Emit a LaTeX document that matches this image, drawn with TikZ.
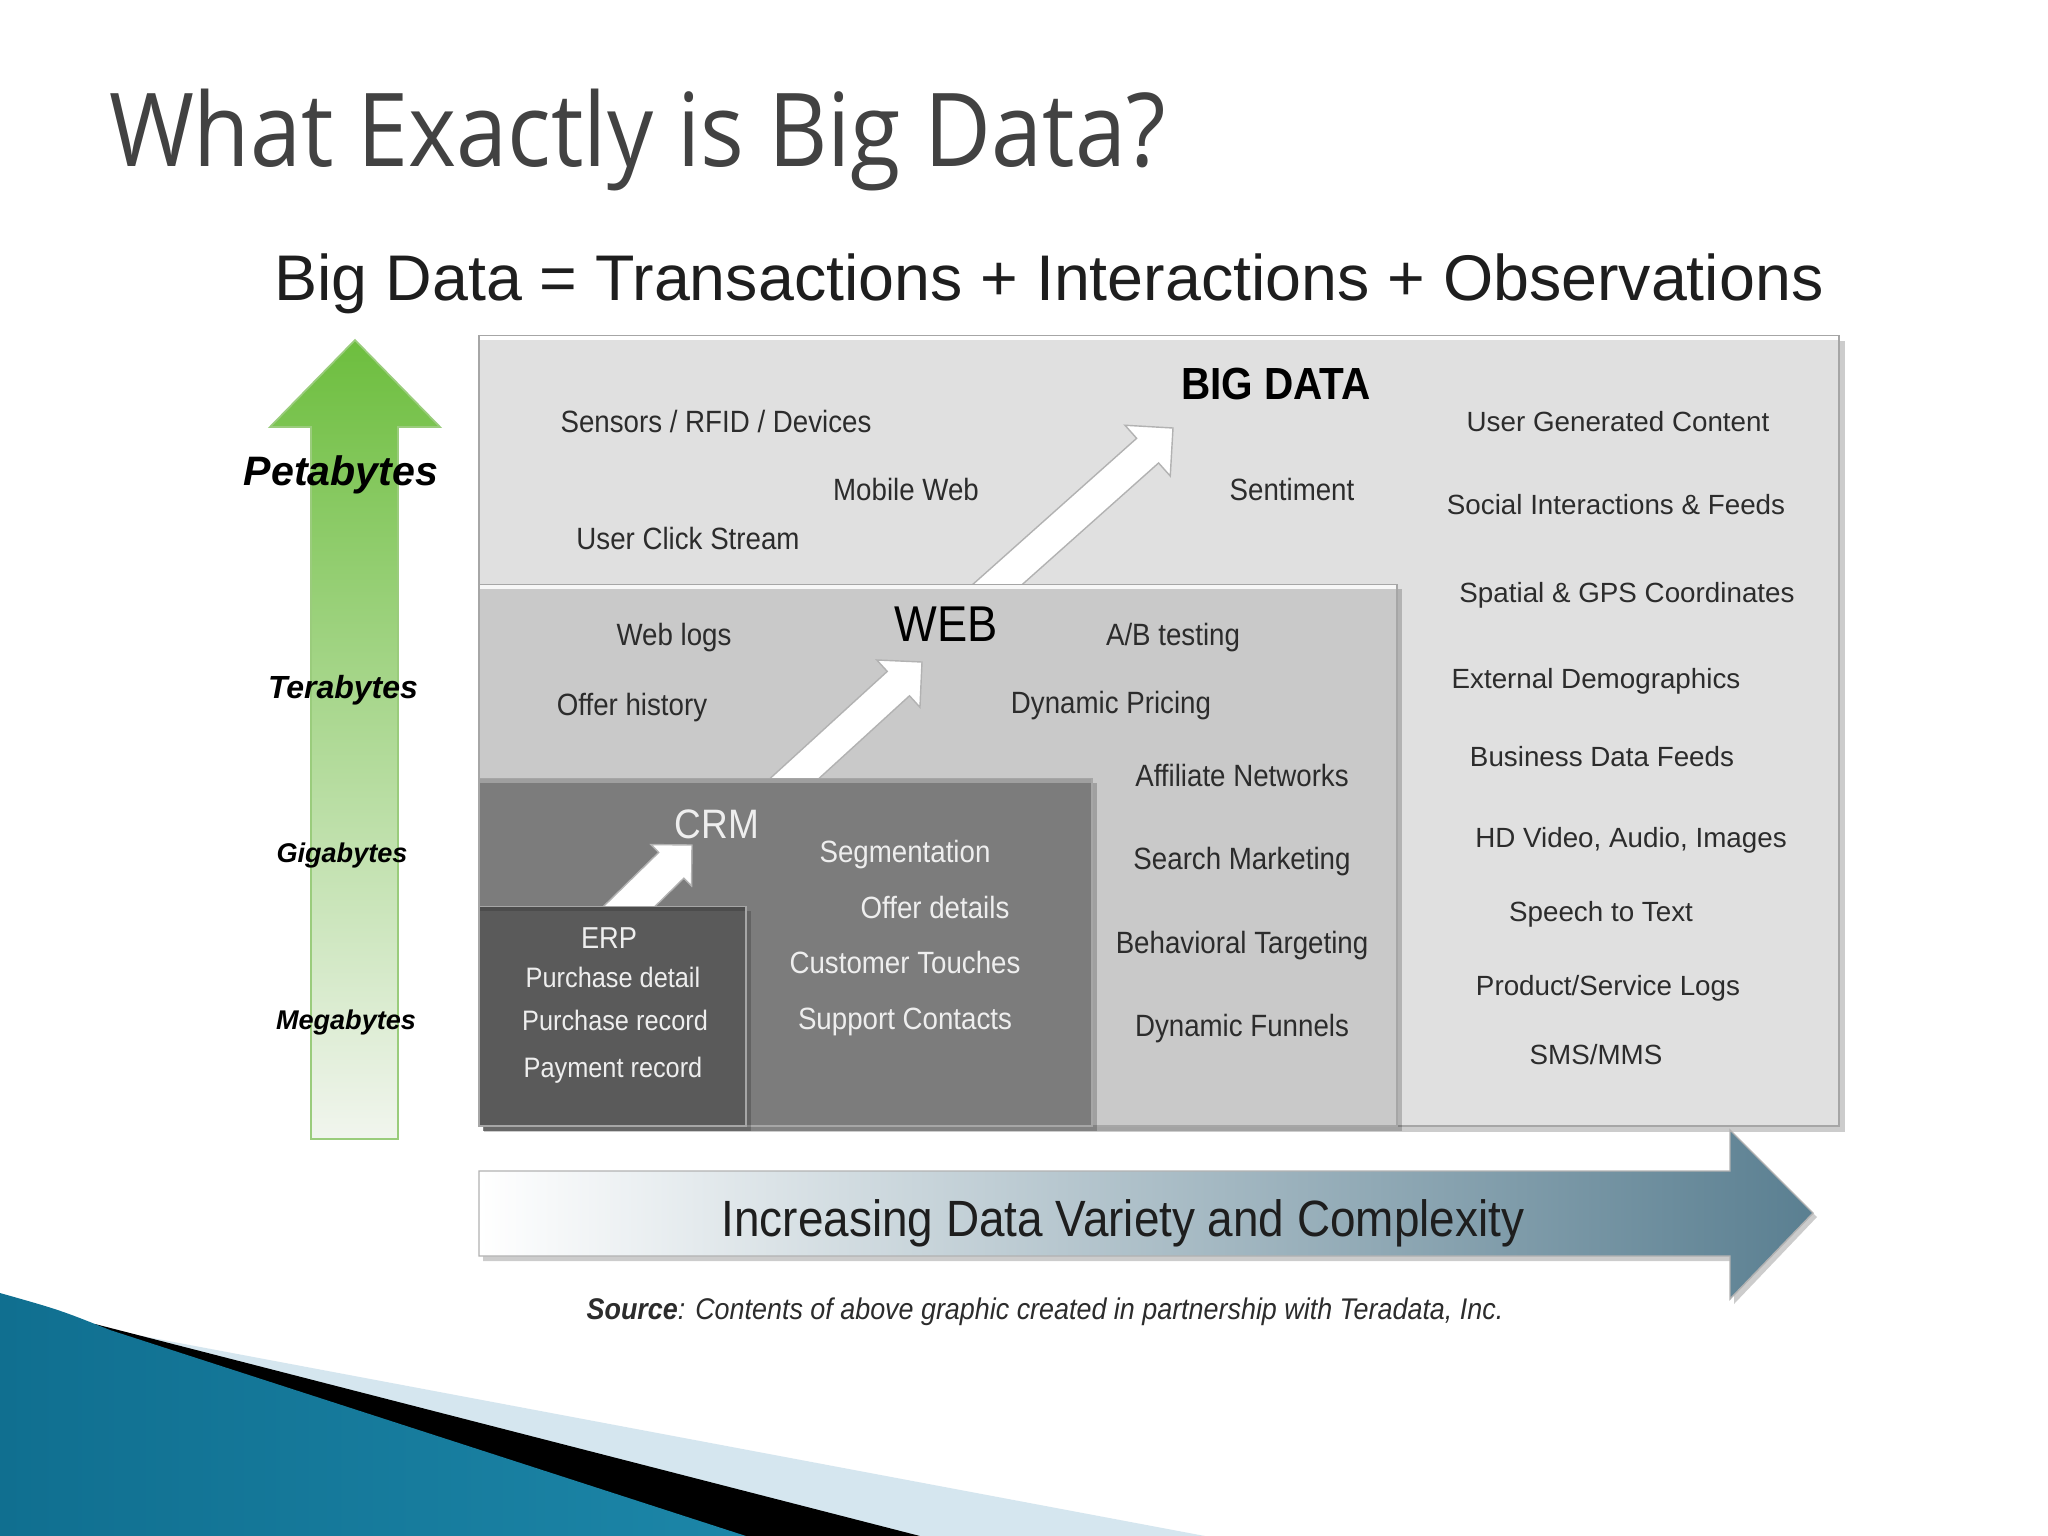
\documentclass[tikz,border=0pt]{standalone}
\usepackage{fontspec}
\setmainfont{Liberation Sans}
\newfontfamily\narrowf[FakeStretch=0.9]{Liberation Sans}
\newfontfamily\titlef[FakeStretch=0.9]{Open Sans}
\usetikzlibrary{calc}
\definecolor{bigc}{HTML}{E0E0E0}
\definecolor{webc}{HTML}{C9C9C9}
\definecolor{crmc}{HTML}{7C7C7C}
\definecolor{erpc}{HTML}{5A5A5A}
\definecolor{txtdark}{HTML}{2C2C2C}
\definecolor{txtlight}{HTML}{EEEEEE}
\definecolor{titlegray}{HTML}{424242}
\definecolor{subgray}{HTML}{1E1E1E}
\definecolor{greenA}{HTML}{6DBE3E}
\definecolor{greenB}{HTML}{F1F5EE}
\definecolor{greenE}{HTML}{9ACC7C}
\definecolor{steelA}{HTML}{C3D3DB}
\definecolor{steelB}{HTML}{5A7F91}
\definecolor{swlight}{HTML}{D5E6EF}
\definecolor{swA}{HTML}{106F90}
\definecolor{swB}{HTML}{4DB2D6}
\definecolor{swC}{HTML}{1C86A8}
\newcommand\fatarrow[6]{%
  \path ($(#2)!#5!(#1)$) coordinate (fab);
  \filldraw[#6] ($(#1)!#3!90:(#2)$) -- ($(fab)!#3!-90:(#1)$) -- ($(fab)!#4!-90:(#1)$)
    -- (#2) -- ($(fab)!#4!90:(#1)$) -- ($(fab)!#3!90:(#1)$) -- ($(#1)!#3!-90:(#2)$) -- cycle;
}
\tikzset{
  every node/.style={inner sep=0pt, outer sep=0pt},
  lbl/.style={anchor=base, font=\narrowf\fontsize{8.75}{10}\selectfont, text=txtdark},
  lblw/.style={lbl, text=txtlight},
  erpl/.style={lblw, font=\narrowf\fontsize{8.0}{10}\selectfont},
  rlbl/.style={anchor=base, font=\fontsize{7.9}{9}\selectfont, text=txtdark},
  ylbl/.style={anchor=base, text=black},
  shadowbox/.style={fill=black, fill opacity=0.2},
  panelline/.style={draw=gray!70, line width=0.4pt},
  whitearrow/.style={fill=white, draw=gray!60, line width=0.4pt},
}
\begin{document}
\begin{tikzpicture}[x=0.01cm,y=-0.01cm]
\useasboundingbox (0,0) rectangle (2048,1536);
\fill[white] (0,0) rectangle (2048,1536);

% bottom-left swoosh
\fill[swlight] (110,1330) -- (1205,1536) -- (0,1536) -- cycle;
\fill[black] (95,1324) -- (920,1536) -- (0,1536) -- cycle;
\shade[left color=swA, middle color=swB, right color=swC] (0,1293) .. controls (60,1310) .. (110,1330) -- (746,1536) -- (0,1536) -- cycle;

% titles
\node[anchor=base west, font=\titlef\fontsize{29}{34}\selectfont, text=titlegray] (title) at (109,166) {What Exactly is Big Data?};
\node[anchor=base, font=\fontsize{18.35}{22}\selectfont, text=subgray] (subtitle) at (1049,300) {Big Data = Transactions + Interactions + Observations};

% BIG DATA panel
\fill[shadowbox] (484,341) rectangle (1845,1132);
\filldraw[fill=bigc, panelline] (479,336) rectangle (1839,1126);
\draw[white, line width=1.2pt] (480,338) -- (1838,338);
\coordinate (a1t) at (961,617);
\coordinate (a1p) at (1173,428);
\fatarrow{a1t}{a1p}{0.165cm}{0.34cm}{0.34cm}{whitearrow}

% WEB panel
\fill[shadowbox] (483,589) rectangle (1402,1131);
\filldraw[fill=webc, panelline] (479,585) rectangle (1397,1126);
\draw[white!85!webc, line width=1.2pt] (480,587) -- (1396,587);
\coordinate (a2t) at (760,810);
\coordinate (a2p) at (922,662);
\fatarrow{a2t}{a2p}{0.165cm}{0.32cm}{0.32cm}{whitearrow}

% CRM panel
\fill[shadowbox] (483,783) rectangle (1097,1131);
\filldraw[fill=crmc, panelline] (479,779) rectangle (1092,1126);
\draw[gray!75, line width=1.2pt] (480,781) -- (1091,781);
\coordinate (a3t) at (600,935);
\coordinate (a3p) at (692,845);
\fatarrow{a3t}{a3p}{0.18cm}{0.29cm}{0.29cm}{whitearrow}

% ERP panel
\fill[shadowbox] (483,911) rectangle (751,1131);
\filldraw[fill=erpc, panelline] (479,907) rectangle (746,1126);
\draw[gray!60!black, line width=1.2pt] (480,909) -- (745,909);

% green volume arrow
\shade[top color=greenA, bottom color=greenB, draw=greenE, line width=0.5pt]
  (311,1139) -- (311,427) -- (270,427) -- (355,340) -- (440,427) -- (398,427) -- (398,1139) -- cycle;
\node[ylbl, font=\bfseries\itshape\fontsize{11.7}{13}\selectfont] (peta) at (341,485) {Petabytes};
\node[ylbl, font=\bfseries\itshape\fontsize{9.1}{11}\selectfont] (tera) at (343,698) {Terabytes};
\node[ylbl, font=\bfseries\itshape\fontsize{7.7}{9}\selectfont] (giga) at (342,862) {Gigabytes};
\node[ylbl, font=\bfseries\itshape\fontsize{7.7}{9}\selectfont] (mega) at (346,1029) {Megabytes};

% variety arrow
\fill[shadowbox] (483,1176) -- (1734,1176) -- (1734,1135) -- (1817,1217) -- (1734,1304) -- (1734,1261) -- (483,1261) -- cycle;
\shade[left color=white, middle color=steelA, right color=steelB, draw=gray!60, line width=0.4pt]
  (479,1171) -- (1730,1171) -- (1730,1130) -- (1813,1213) -- (1730,1299) -- (1730,1256) -- (479,1256) -- cycle;
\node[anchor=base, font=\narrowf\fontsize{14.5}{17}\selectfont, text=subgray] (variety) at (1123,1236) {Increasing Data Variety and Complexity};
\node[anchor=base, font=\narrowf\itshape\fontsize{8.5}{10}\selectfont, text=txtdark] (source) at (1045,1319) {\textbf{Source}: Contents of above graphic created in partnership with Teradata, Inc.};

% BIG DATA panel texts
\node[anchor=base, font=\narrowf\bfseries\fontsize{12.8}{15}\selectfont, text=black] (bigdata) at (1276,399) {BIG DATA};
\node[lbl] (sensors) at (716,432) {Sensors / RFID / Devices};
\node[lbl] (mobile) at (906,500) {Mobile Web};
\node[lbl] (click) at (688,549) {User Click Stream};
\node[lbl] (sentiment) at (1292,500) {Sentiment};

% WEB panel texts
\node[anchor=base, font=\narrowf\fontsize{14.3}{17}\selectfont, text=black] (web) at (946,641) {WEB};
\node[lbl] (weblogs) at (674,645) {Web logs};
\node[lbl] (ab) at (1173,645) {A/B testing};
\node[lbl] (offerh) at (632,715) {Offer history};
\node[lbl] (pricing) at (1111,713) {Dynamic Pricing};
\node[lbl] (affil) at (1242,786) {Affiliate Networks};
\node[lbl] (search) at (1242,869) {Search Marketing};
\node[lbl] (behav) at (1242,953) {Behavioral Targeting};
\node[lbl] (funnels) at (1242,1036) {Dynamic Funnels};

% CRM panel texts
\node[anchor=base, font=\narrowf\fontsize{11.7}{14}\selectfont, text=txtlight] (crm) at (717,838) {CRM};
\node[lblw] (segm) at (905,862) {Segmentation};
\node[lblw] (offerd) at (935,918) {Offer details};
\node[lblw] (touch) at (905,973) {Customer Touches};
\node[lblw] (support) at (905,1029) {Support Contacts};

% ERP panel texts
\node[erpl, font=\narrowf\fontsize{8.6}{10}\selectfont] (erp) at (609,948) {ERP};
\node[erpl] (pdetail) at (613,987) {Purchase detail};
\node[erpl] (precord) at (615,1030) {Purchase record};
\node[erpl] (payrec) at (613,1077) {Payment record};

% right column texts
\node[rlbl] (ugc) at (1618,431) {User Generated Content};
\node[rlbl] (social) at (1616,514) {Social Interactions \& Feeds};
\node[rlbl] (spatial) at (1627,602) {Spatial \& GPS Coordinates};
\node[rlbl] (demog) at (1596,688) {External Demographics};
\node[rlbl] (bizfeeds) at (1602,766) {Business Data Feeds};
\node[rlbl] (hd) at (1631,847) {HD Video, Audio, Images};
\node[rlbl] (speech) at (1601,921) {Speech to Text};
\node[rlbl] (prodlogs) at (1608,995) {Product/Service Logs};
\node[rlbl] (sms) at (1596,1064) {SMS/MMS};
\end{tikzpicture}
\end{document}
